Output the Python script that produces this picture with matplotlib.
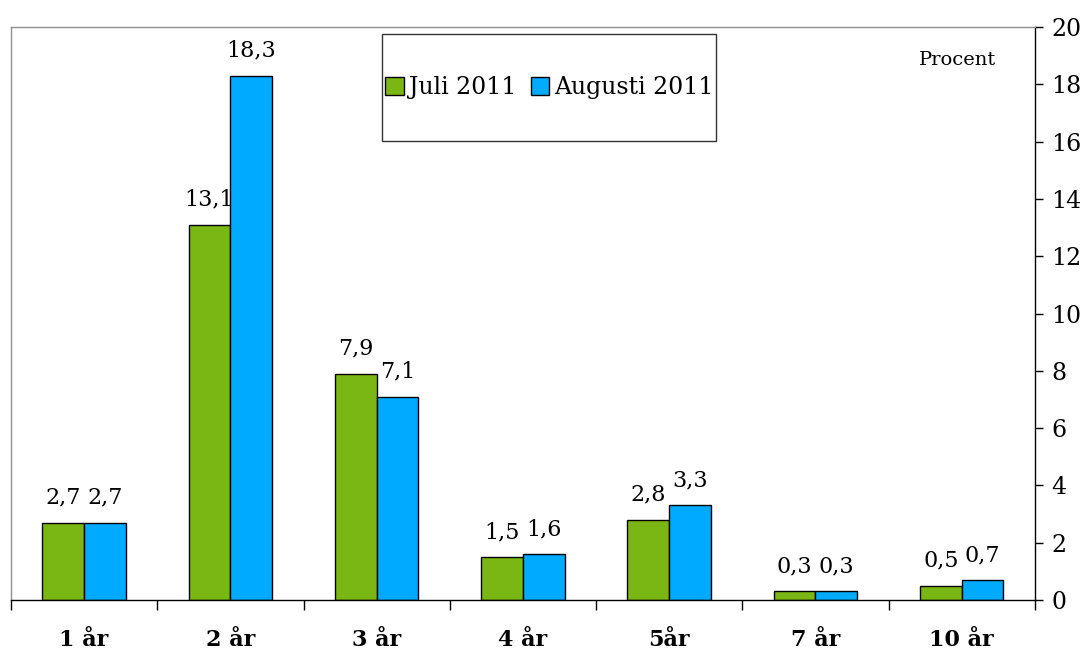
import numpy as np
import matplotlib
matplotlib.use("Agg")
import matplotlib.pyplot as plt
from matplotlib.patches import Rectangle

# Data
categories = ["1 år", "2 år", "3 år", "4 år", "5år", "7 år", "10 år"]
juli = [2.7, 13.1, 7.9, 1.5, 2.8, 0.3, 0.5]
augusti = [2.7, 18.3, 7.1, 1.6, 3.3, 0.3, 0.7]
series_names = ["Juli 2011", "Augusti 2011"]
y_ticks = list(range(0, 21, 2))

green = "#7AB715"
blue = "#00AAFF"

plt.rcParams['font.family'] = ['DejaVu Serif']

fig = plt.figure(figsize=(10.87, 6.5), dpi=100)
ax = fig.add_axes([0.0101, 0.0769, 0.9419, 0.8815])

x = np.arange(len(categories))
w = 0.285
b1 = ax.bar(x - w / 2, juli, w, color=green, edgecolor="black", linewidth=1, label=series_names[0])
b2 = ax.bar(x + w / 2, augusti, w, color=blue, edgecolor="black", linewidth=1, label=series_names[1])

def fmt(v):
    return f"{v:.1f}".replace(".", ",")

for bars, vals in ((b1, juli), (b2, augusti)):
    for r, v in zip(bars, vals):
        ax.annotate(fmt(v), (r.get_x() + r.get_width() / 2, v), xytext=(0, 10),
                    textcoords="offset points", ha="center", va="bottom", fontsize=16)

ax.set_xlim(-0.5, len(categories) - 0.5)
ax.set_ylim(0, 20)

# y axis on the right
ax.yaxis.tick_right()
ax.set_yticks(y_ticks)
ax.tick_params(axis="y", direction="out", length=6, width=1, labelsize=17, pad=6)

# x: labels at centers, ticks at boundaries
ax.set_xticks(x)
ax.set_xticklabels(categories, fontsize=16, fontweight="bold")
ax.set_xticks(np.arange(-0.5, len(categories)), minor=True)
ax.tick_params(axis="x", which="major", length=0, pad=21)
ax.tick_params(axis="x", which="minor", direction="out", length=7, width=1)

for s in ("left", "top"):
    ax.spines[s].set_color("#909090")
    ax.spines[s].set_linewidth(1)
for s in ("right", "bottom"):
    ax.spines[s].set_color("black")
    ax.spines[s].set_linewidth(1)

# legend box
ax.add_patch(Rectangle((0.362, 0.801), 0.327, 0.187, transform=ax.transAxes,
                       fill=False, edgecolor="#333333", linewidth=1, zorder=5))
ax.legend(loc="center", bbox_to_anchor=(0.526, 0.894), ncol=2, frameon=False,
          fontsize=17, handlelength=0.8, handleheight=0.8, handletextpad=0.2,
          columnspacing=0.6)

ax.text(0.925, 0.942, "Procent", transform=ax.transAxes, ha="center", va="center", fontsize=14)

fig.savefig("out.png", dpi=100)
